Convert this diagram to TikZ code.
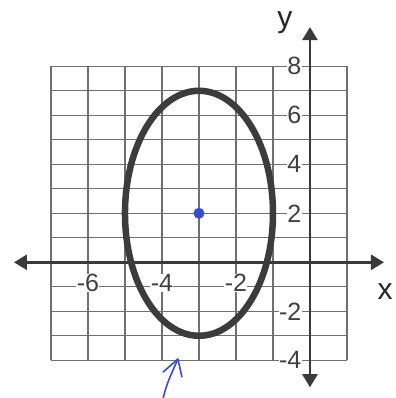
\documentclass[tikz,border=0pt]{standalone}
\usepackage{fontspec}
\setmainfont{Liberation Sans}
\usetikzlibrary{arrows.meta}
\definecolor{gridc}{HTML}{707070}
\definecolor{axisc}{HTML}{3A3A3A}
\definecolor{curvec}{HTML}{3C3C3C}
\definecolor{penblue}{HTML}{3B4BD0}
\definecolor{labc}{HTML}{404040}
\begin{document}
\begin{tikzpicture}[x=37pt,y=24.5pt,
  gridline/.style={gridc,line width=1.2pt},
  axisline/.style={axisc,line width=2.6pt,{Triangle[length=13pt,width=15pt]}-{Triangle[length=13pt,width=15pt]}},
  curve/.style={curvec,line width=6.5pt},
  ticklab/.style={labc,font=\fontsize{25}{25}\selectfont,fill=white,inner sep=0.4pt},
  axislab/.style={black!85,font=\fontsize{30}{30}\selectfont,inner sep=0pt},
  pen/.style={penblue,line width=1.6pt,line cap=round,line join=round}]
\useasboundingbox (-8.378,-5.539) rectangle (2.324,10.706);
\fill[white] (-8.378,-5.539) rectangle (2.324,10.706);
% grid
\foreach \i in {-7,...,1} \draw[gridline] (\i,-4) -- (\i,8);
\foreach \j in {-4,...,8} \draw[gridline] (-7,\j) -- (1,\j);
% tick labels
\foreach \v in {-6,-4,-2} \node[ticklab] (xl\v) at (\v,-0.85) {-\the\numexpr-\v\relax};
\foreach \v in {8,6,4,2} \node[ticklab,anchor=east] (yl\v) at (-0.22,\v) {\v};
\foreach \v in {-2,-4} \node[ticklab,anchor=east] (yl\v) at (-0.22,\v) {-\the\numexpr-\v\relax};
% axes
\coordinate (xa) at (-8.0,0); \coordinate (xb) at (2.0,0);
\coordinate (ya) at (0,-5.1); \coordinate (yb) at (0,9.6);
\draw[axisline] (xa) -- (xb);
\draw[axisline] (ya) -- (yb);
\node[axislab] (xlab) at (2.03,-1.2) {x};
\node[axislab] (ylab) at (-0.68,9.78) {y};
% ellipse
\coordinate (ctr) at (-3,2);
\draw[curve] (ctr) ellipse [x radius=2, y radius=5];
\fill[penblue] (ctr) circle [radius=5.5pt];
% hand-drawn arrow
\coordinate (pa) at (-3.97,-5.54);
\coordinate (pt) at (-3.57,-3.95);
\coordinate (pl) at (-3.97,-4.48);
\coordinate (pr) at (-3.46,-4.68);
\draw[pen] (pa) .. controls (-3.85,-4.9) .. (pt);
\draw[pen] (pl) -- (pt) -- (pr);
\end{tikzpicture}
\end{document}
